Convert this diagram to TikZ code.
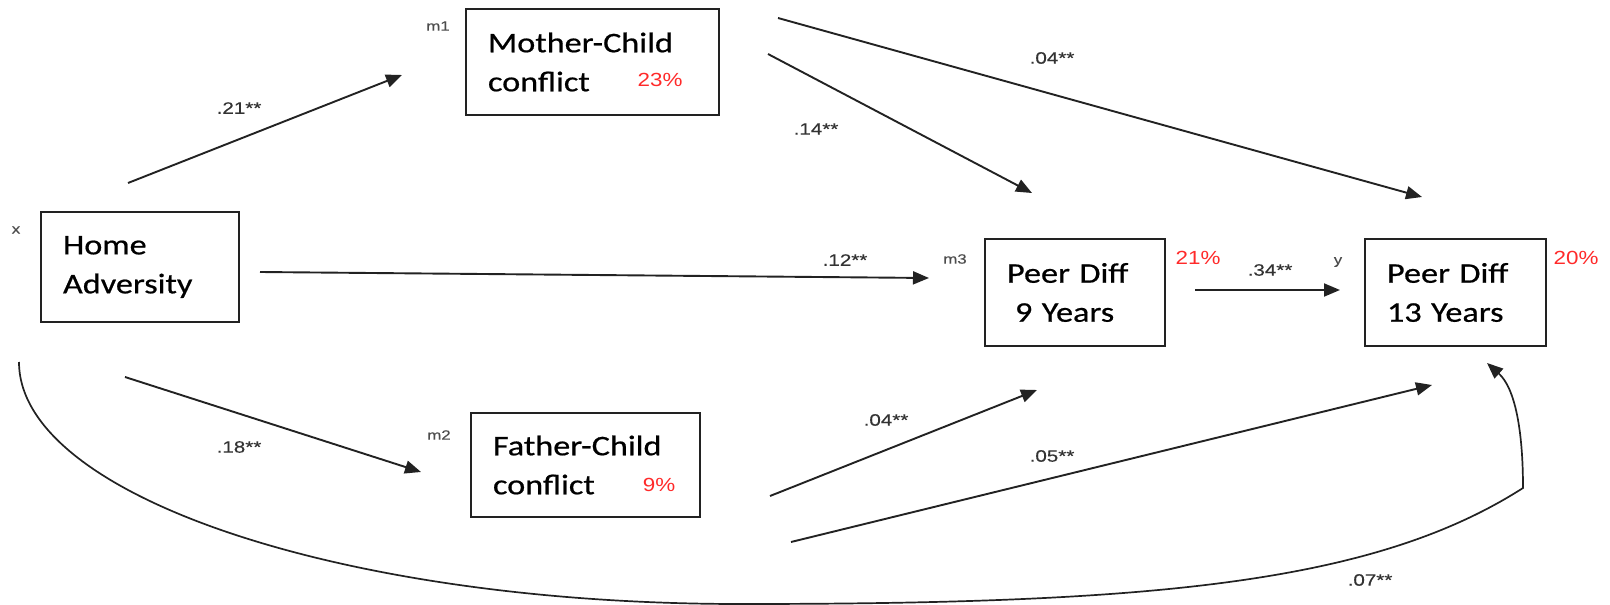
\documentclass[tikz,border=0pt]{standalone}
\usepackage{fontspec}
\usetikzlibrary{arrows.meta}
\newfontfamily\boxfont[FakeStretch=1.2,FakeBold=0.6]{Carlito}
\newfontfamily\lblfont[FakeStretch=1.25,FakeBold=0.3]{Liberation Sans}
\newfontfamily\pctfont[FakeStretch=1.18]{Liberation Sans}
\definecolor{pctred}{HTML}{FF2A2A}
\definecolor{ink}{HTML}{222222}
\tikzset{
  box/.style={draw=ink, line width=1.8pt, align=left, inner xsep=22pt, inner ysep=0pt,
              font=\boxfont\fontsize{28.5}{39}\selectfont, anchor=center},
  coef/.style={font=\lblfont\fontsize{16.5}{18}\selectfont, text=black!80, inner sep=0pt},
  pct/.style={font=\pctfont\fontsize{19}{22}\selectfont, text=pctred, inner sep=0pt},
  tag/.style={font=\lblfont\fontsize{13.5}{15}\selectfont, text=black!70, inner sep=0pt},
  conn/.style={draw=ink, line width=1.9pt, -{Triangle[length=16pt,width=13pt]}},
}
\begin{document}
\begin{tikzpicture}[x=1pt, y=-1pt]
\useasboundingbox (0,0) rectangle (1610,605);

% boxes
\node[box, text width=154pt, minimum height=110pt] (ha) at (140,267) {Home\\Adversity};
\node[box, text width=209pt, minimum height=106pt] (m1) at (592.5,62) {Mother-Child\\conflict};
\node[box, text width=185pt, minimum height=104pt] (m2) at (585.5,465) {Father-Child\\conflict};
\node[box, text width=136pt, minimum height=107pt] (m3) at (1075,292.5) {Peer Diff\\\hspace*{8pt}9 Years};
\node[box, text width=137pt, minimum height=107pt] (y) at (1455.5,292.5) {Peer Diff\\13 Years};

% small tags
\node[tag] (tx) at (16,230) {x};
\node[tag] (tm1) at (438,26) {m1};
\node[tag] (tm2) at (439,435) {m2};
\node[tag] (tm3) at (955,259) {m3};
\node[tag] (ty) at (1338,262) {y};

% percentages
\node[pct] (p1) at (660,80) {23\%};
\node[pct] (p2) at (659,485) {9\%};
\node[pct] (p3) at (1198,258) {21\%};
\node[pct] (p4) at (1576,258) {20\%};

% arrow end points
\coordinate (a1s) at (128,183);  \coordinate (a1e) at (402,75);
\coordinate (a2s) at (768,54);   \coordinate (a2e) at (1032,193);
\coordinate (a3s) at (778,18);   \coordinate (a3e) at (1422,197);
\coordinate (a4s) at (260,272);  \coordinate (a4e) at (929,278);
\coordinate (a5s) at (1195,290); \coordinate (a5e) at (1340,290);
\coordinate (a6s) at (125,377);  \coordinate (a6e) at (421,472);
\coordinate (a7s) at (770,496);  \coordinate (a7e) at (1037,390);
\coordinate (a8s) at (791,542);  \coordinate (a8e) at (1432,385);
\coordinate (c0) at (19,362);
\coordinate (c1) at (740,604);
\coordinate (c2) at (1523,488);
\coordinate (c3) at (1487,363);

\draw[conn] (a1s) -- (a1e);
\draw[conn] (a2s) -- (a2e);
\draw[conn] (a3s) -- (a3e);
\draw[conn] (a4s) -- (a4e);
\draw[conn] (a5s) -- (a5e);
\draw[conn] (a6s) -- (a6e);
\draw[conn] (a7s) -- (a7e);
\draw[conn] (a8s) -- (a8e);
\draw[conn, line width=1.7pt] (c0) .. controls (19,495) and (340,604) .. (c1)
  .. controls (1150,604) and (1373,584) .. (c2)
  .. controls (1523,430) and (1515,388) .. (c3);

% coefficients
\node[coef] (k1) at (239,108) {.21**};
\node[coef] (k2) at (1052,58) {.04**};
\node[coef] (k3) at (816,129) {.14**};
\node[coef] (k4) at (845,260) {.12**};
\node[coef] (k5) at (1270,270) {.34**};
\node[coef] (k6) at (239,447) {.18**};
\node[coef] (k7) at (886,420) {.04**};
\node[coef] (k8) at (1052,456) {.05**};
\node[coef] (k9) at (1370,580) {.07**};
\end{tikzpicture}
\end{document}
